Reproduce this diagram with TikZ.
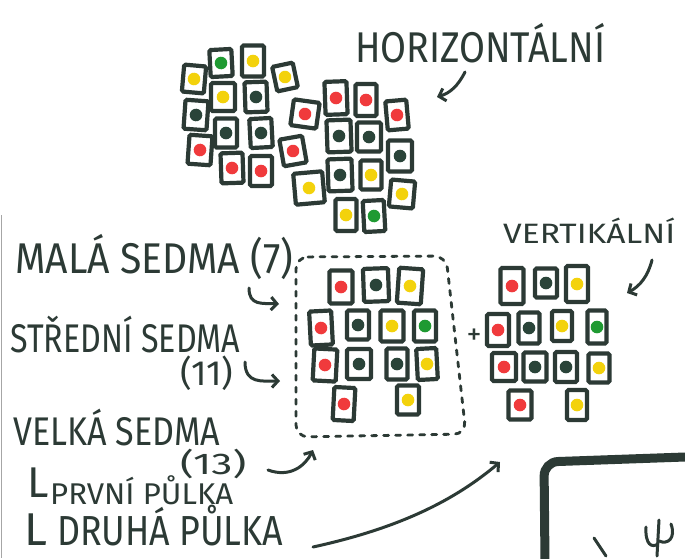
\documentclass[tikz,border=0pt]{standalone}
\usepackage{fontspec}
\setmainfont{Fira Sans}
\usetikzlibrary{arrows.meta}
\definecolor{ink}{HTML}{2C3A35}
\definecolor{cr}{HTML}{F03A3C}
\definecolor{cy}{HTML}{F3D20C}
\definecolor{cg}{HTML}{1F9A32}
\definecolor{cd}{HTML}{2A4439}
\tikzset{
  card/.style={draw=ink, line width=4.2pt, fill=white, rounded corners=1.5pt, inner sep=0pt},
  lbl/.style={text=ink, inner sep=0pt, anchor=base west},
  arr/.style={draw=ink, line width=3pt, line cap=round, -{Straight Barb[length=6pt,width=13pt,line width=3pt]}},
  stroke/.style={draw=ink, line width=3pt, line cap=round},
  dashbox/.style={draw=ink, line width=2.8pt, line cap=round, dash pattern=on 5pt off 7pt, rounded corners=12pt}
}
% \card{name}{x}{y}{w}{h}{rot}{colour}
\newcommand\card[7]{\node[card, minimum width=#4pt, minimum height=#5pt, rotate=#6,
  path picture={\fill[#7] (path picture bounding box.center) circle (6.3pt);}] (#1) at (#2,#3) {};}
\newcommand\hw[3]{\resizebox{#1}{\height}{\fontsize{#2}{#2}\selectfont #3}}
\begin{document}
\begin{tikzpicture}[x=1pt,y=-1pt]
\useasboundingbox[fill=white] (0,0) rectangle (685,558);
% paper edge
\draw[gray!70, line width=1.5pt] (1.5,215) -- (1.5,558);

% ---------- horizontal group ----------
\card{h1}{221}{63}{22}{27}{3}{cg}
\card{h2}{253}{61}{22}{31}{0}{cy}
\card{h3}{194}{79}{22}{27}{-5}{cy}
\card{h4}{285}{77}{21}{25}{12}{cy}
\card{h5}{223}{97}{24}{28}{0}{cy}
\card{h6}{256}{97}{22}{30}{2}{cd}
\card{h7}{196}{115}{23}{29}{-4}{cd}
\card{h8}{226}{133}{22}{29}{0}{cd}
\card{h9}{261}{133}{22}{29}{3}{cd}
\card{h10}{200}{150}{23}{29}{-4}{cr}
\card{h11}{232}{168}{22}{30}{2}{cr}
\card{h12}{261}{171}{22}{30}{0}{cr}
\card{h13}{336}{98}{22}{33}{2}{cr}
\card{h14}{366}{100}{21}{32}{0}{cr}
\card{h15}{305}{114}{26}{26}{-8}{cr}
\card{h16}{397}{115}{21}{29}{5}{cr}
\card{h17}{339}{136}{24}{32}{2}{cd}
\card{h18}{369}{137}{24}{29}{0}{cd}
\card{h19}{293}{151}{23}{27}{10}{cr}
\card{h20}{400}{156}{24}{31}{0}{cd}
\card{h21}{340}{175}{24}{32}{2}{cd}
\card{h22}{371}{175}{21}{29}{0}{cy}
\card{h23}{309}{188}{29}{31}{5}{cy}
\card{h24}{402}{194}{24}{27}{-5}{cy}
\card{h25}{346}{215}{21}{32}{0}{cy}
\card{h26}{374}{216}{21}{31}{3}{cg}

% ---------- middle group (sedma) ----------
\draw[dashbox] (296,257) -- (446,256) -- (466,434) -- (296,437) -- cycle;
\card{m1}{341}{287}{23}{33}{0}{cr}
\card{m2}{376}{285}{25}{33}{2}{cd}
\card{m3}{410}{286}{24}{35}{-4}{cy}
\card{m4}{321}{328}{22}{34}{3}{cr}
\card{m5}{358}{325}{22}{29}{0}{cd}
\card{m6}{392}{326}{23}{31}{0}{cy}
\card{m7}{425}{326}{22}{31}{0}{cg}
\card{m8}{325}{365}{23}{32}{-3}{cr}
\card{m9}{359}{364}{24}{30}{0}{cd}
\card{m10}{397}{364}{21}{31}{0}{cd}
\card{m11}{427}{364}{20}{31}{3}{cy}
\card{m12}{344}{404}{21}{33}{-3}{cr}
\card{m13}{408}{400}{22}{29}{0}{cy}

\node[text=ink, inner sep=0pt, font=\fontsize{30}{30}\selectfont] (plus) at (474,337) {+};

% ---------- vertical group ----------
\card{v1}{512}{286}{23}{36}{0}{cr}
\card{v2}{546}{283}{22}{29}{0}{cd}
\card{v3}{577}{284}{22}{36}{0}{cy}
\card{v4}{498}{330}{22}{32}{0}{cr}
\card{v5}{529}{328}{21}{31}{0}{cd}
\card{v6}{562}{326}{20}{30}{0}{cy}
\card{v7}{597}{327}{19}{33}{0}{cg}
\card{v8}{504}{367}{24}{28}{0}{cr}
\card{v9}{535}{367}{23}{29}{0}{cd}
\card{v10}{566}{367}{22}{30}{0}{cd}
\card{v11}{599}{368}{21}{29}{0}{cy}
\card{v12}{520}{405}{23}{29}{0}{cr}
\card{v13}{577}{405}{20}{30}{0}{cy}

% ---------- labels ----------
\node[lbl] (horiz) at (355,62) {\hw{250pt}{43}{HORIZONTÁLNÍ}};
\node[lbl] (vert) at (503,243) {\hw{172pt}{28}{VERTIKÁLNÍ}};
\node[lbl] (mala) at (15,273) {\hw{278pt}{43}{MALÁ SEDMA (7)}};
\node[lbl] (stredni) at (10,352) {\hw{230pt}{40}{STŘEDNÍ SEDMA}};
\node[lbl] (p11) at (180,385) {\hw{53pt}{35}{(11)}};
\node[lbl] (velka) at (13,445) {\hw{207pt}{40}{VELKÁ SEDMA}};
\node[lbl] (p13) at (180,474) {\hw{66pt}{30}{(13)}};
\node[lbl] (l1) at (27,497) {\fontsize{43}{43}\selectfont L};
\node[lbl] (prvni) at (50,504) {\hw{183pt}{30}{PRVNÍ PŮLKA}};
\node[lbl] (l2) at (24,545) {\fontsize{46}{46}\selectfont L};
\node[lbl] (druha) at (57,545) {\hw{226pt}{42}{DRUHÁ PŮLKA}};

% ---------- arrows ----------
\coordinate (ha) at (465,72);
\coordinate (hb) at (437,97);
\draw[arr] (ha) .. controls (458,86) and (450,93) .. (hb);
\coordinate (va) at (652,260);
\coordinate (vb) at (627,293);
\draw[arr] (va) .. controls (648,276) and (640,286) .. (vb);
\coordinate (a1s) at (249,288);
\coordinate (a1e) at (279,304);
\draw[arr] (a1s) .. controls (249,306) and (262,303) .. (a1e);
\coordinate (a2s) at (245,362);
\coordinate (a2e) at (280,381);
\draw[arr] (a2s) .. controls (245,384) and (262,381) .. (a2e);
\coordinate (a3s) at (268,470);
\coordinate (a3e) at (313,450);
\draw[arr] (a3s) .. controls (290,478) and (305,466) .. (a3e);
\coordinate (a4s) at (313,547);
\coordinate (a4e) at (500,462);
\draw[arr] (a4s) .. controls (400,528) and (455,500) .. (a4e);

% ---------- bottom-right frame ----------
\draw[draw=ink, line width=9pt, rounded corners=14pt] (545,562) -- (544,462) -- (685,457);
\draw[stroke] (594,538) -- (606,556);
\draw[stroke] (659,520) -- (657,556);
\draw[stroke] (646,527) .. controls (645,545) and (652,548) .. (658,544);
\draw[stroke] (671,524) .. controls (676,538) and (668,545) .. (659,541);
\end{tikzpicture}
\end{document}
